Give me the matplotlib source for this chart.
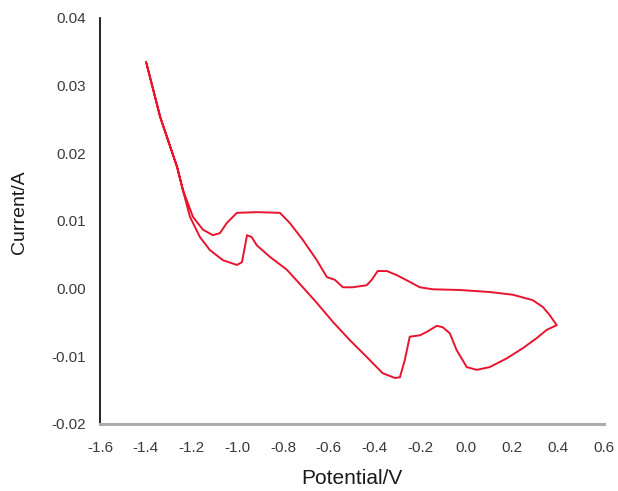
import matplotlib
matplotlib.use('Agg')
import matplotlib.pyplot as plt

plt.rcParams['font.family'] = ['Liberation Sans', 'DejaVu Sans']

# potential (V) and current (A)
potential = [
    -1.399, -1.338, -1.264, -1.238,
    # upper branch
    -1.194, -1.150, -1.107, -1.076, -1.046, -1.002, -0.915, -0.814, -0.771,
    -0.714, -0.653, -0.609, -0.574, -0.539, -0.496, -0.435, -0.413, -0.387,
    -0.347, -0.304, -0.247, -0.203, -0.146, -0.029, 0.102, 0.203, 0.290,
    0.334, 0.364, 0.395,
    # lower branch
    0.351, 0.308, 0.247, 0.177, 0.102, 0.046, 0.002, -0.042, -0.072, -0.103,
    -0.129, -0.173, -0.203, -0.247, -0.269, -0.290, -0.312, -0.365, -0.435,
    -0.509, -0.583, -0.653, -0.714, -0.784, -0.858, -0.915, -0.937, -0.958,
    -0.967, -0.980, -1.002, -1.063, -1.120, -1.163, -1.207, -1.236, -1.262,
    -1.336, -1.396,
]
current = [
    0.0335, 0.0254, 0.0180, 0.0146,
    0.0106, 0.0087, 0.0079, 0.0082, 0.0097, 0.0112, 0.0113, 0.0112, 0.0097,
    0.0072, 0.0042, 0.0017, 0.0013, 0.0002, 0.0002, 0.0005, 0.0013, 0.0026,
    0.0026, 0.0020, 0.0010, 0.0002, -0.0001, -0.0002, -0.0005, -0.0009, -0.0017,
    -0.0027, -0.0039, -0.0054,
    -0.0061, -0.0073, -0.0088, -0.0103, -0.0116, -0.0120, -0.0116, -0.0091, -0.0066, -0.0057,
    -0.0055, -0.0064, -0.0069, -0.0071, -0.0106, -0.0131, -0.0132, -0.0125, -0.0101,
    -0.0076, -0.0049, -0.0021, 0.0002, 0.0028, 0.0047, 0.0064, 0.0076, 0.0079,
    0.0062, 0.0039, 0.0035, 0.0042, 0.0057, 0.0076, 0.0106, 0.0143, 0.0179,
    0.0253, 0.0332,
]

x_ticks = [-1.6, -1.4, -1.2, -1.0, -0.8, -0.6, -0.4, -0.2, 0.0, 0.2, 0.4, 0.6]
y_ticks = [-0.02, -0.01, 0.00, 0.01, 0.02, 0.03, 0.04]

fig = plt.figure(figsize=(6.18, 4.91), dpi=100)
ax = fig.add_axes([0.1618, 0.1365, 0.815, 0.827])

ax.plot(potential, current, color='#e8142e', linewidth=1.4)

ax.set_xlim(-1.6, 0.6)
ax.set_ylim(-0.02, 0.04)
ax.set_xticks(x_ticks)
ax.set_xticklabels(['%.1f' % v for v in x_ticks])
ax.set_yticks(y_ticks)
ax.set_yticklabels(['%.2f' % v for v in y_ticks])

ax.spines['top'].set_visible(False)
ax.spines['right'].set_visible(False)
ax.spines['left'].set_color('black')
ax.spines['left'].set_linewidth(1.2)
ax.spines['bottom'].set_color('#a8adad')
ax.spines['bottom'].set_linewidth(2.2)

ax.tick_params(axis='both', length=0, labelsize=11, colors='#3a3a3a')
ax.tick_params(axis='x', pad=12)
ax.tick_params(axis='y', pad=10)

ax.set_xlabel('Potential/V', fontsize=15, color='#1a1a1a')
ax.set_ylabel('Current/A', fontsize=14, color='#1a1a1a')
ax.xaxis.set_label_coords(0.5, -0.11)
ax.yaxis.set_label_coords(-0.143, 0.522)

fig.savefig('out.png', dpi=100)
